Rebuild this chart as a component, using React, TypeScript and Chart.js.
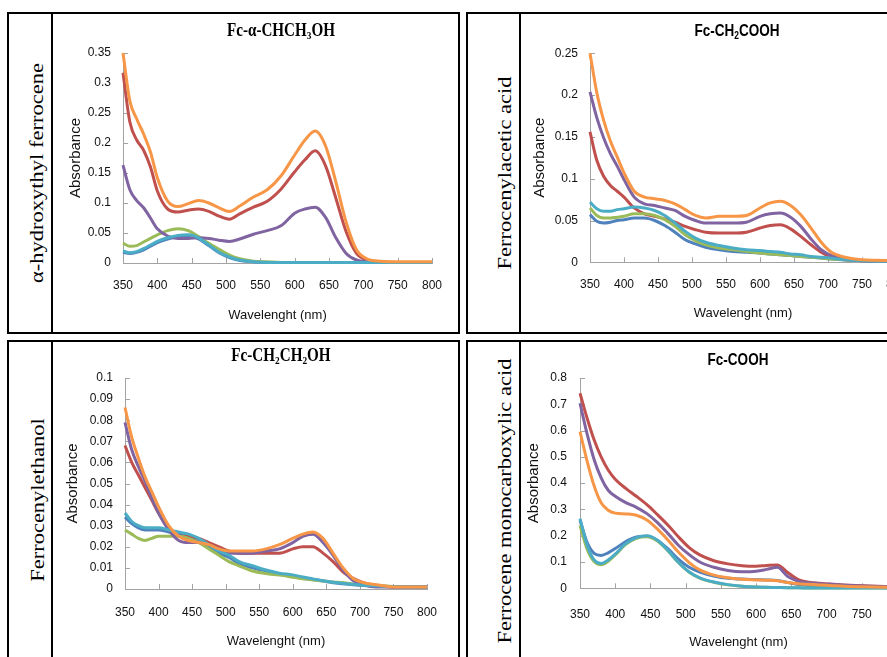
import React, { useEffect, useRef } from "react";
import { Chart, registerables } from "chart.js";

Chart.register(...registerables);

// ---------- data ----------
const WAVELENGTHS = [350, 360, 370, 380, 390, 400, 415, 430, 445, 460, 475, 490, 505, 520, 540, 560, 580, 600, 615, 630, 645, 660, 675, 690, 705, 725, 750, 800];
const X_TICKS = [350, 400, 450, 500, 550, 600, 650, 700, 750, 800];

// series order: blue, red, green, purple, aqua, orange
const SERIES_COLORS = ["#4F81BD", "#C0504D", "#9BBB59", "#8064A2", "#4BACC6", "#F79646"];

// Panel 1: Fc-α-CHCH3OH
const P1_BLUE = [0.018, 0.016, 0.018, 0.022, 0.028, 0.034, 0.040, 0.044, 0.045, 0.040, 0.029, 0.017, 0.009, 0.004, 0.002, 0.001, 0.001, 0.001, 0.001, 0.001, 0.001, 0.001, 0.001, 0.001, 0.001, 0.001, 0.001, 0.001];
const P1_RED = [0.317, 0.235, 0.205, 0.188, 0.160, 0.120, 0.090, 0.085, 0.088, 0.090, 0.086, 0.078, 0.073, 0.082, 0.093, 0.103, 0.123, 0.152, 0.172, 0.187, 0.162, 0.108, 0.052, 0.016, 0.005, 0.002, 0.001, 0.001];
const P1_GREEN = [0.033, 0.028, 0.029, 0.035, 0.041, 0.047, 0.054, 0.057, 0.054, 0.044, 0.033, 0.023, 0.013, 0.007, 0.003, 0.002, 0.001, 0.001, 0.001, 0.001, 0.001, 0.001, 0.001, 0.001, 0.001, 0.001, 0.001, 0.001];
const P1_PURPLE = [0.163, 0.122, 0.104, 0.092, 0.075, 0.057, 0.045, 0.041, 0.041, 0.042, 0.041, 0.038, 0.036, 0.040, 0.048, 0.054, 0.062, 0.083, 0.090, 0.093, 0.076, 0.042, 0.016, 0.005, 0.002, 0.001, 0.001, 0.001];
const P1_AQUA = [0.020, 0.017, 0.019, 0.024, 0.030, 0.036, 0.042, 0.046, 0.047, 0.042, 0.030, 0.018, 0.010, 0.005, 0.002, 0.001, 0.001, 0.001, 0.001, 0.001, 0.001, 0.001, 0.001, 0.001, 0.001, 0.001, 0.001, 0.001];
const P1_ORANGE = [0.350, 0.270, 0.240, 0.215, 0.185, 0.142, 0.103, 0.094, 0.099, 0.104, 0.100, 0.092, 0.086, 0.095, 0.110, 0.122, 0.145, 0.180, 0.205, 0.220, 0.195, 0.135, 0.068, 0.022, 0.007, 0.003, 0.002, 0.002];
const P1_Y_TICKS = [0, 0.05, 0.1, 0.15, 0.2, 0.25, 0.3, 0.35];

// Panel 2: Fc-CH2COOH
const P2_BLUE = [0.057, 0.049, 0.047, 0.048, 0.050, 0.051, 0.053, 0.053, 0.050, 0.044, 0.036, 0.027, 0.022, 0.018, 0.015, 0.013, 0.012, 0.011, 0.010, 0.009, 0.008, 0.007, 0.006, 0.005, 0.004, 0.003, 0.002, 0.001];
const P2_RED = [0.156, 0.122, 0.103, 0.092, 0.085, 0.078, 0.065, 0.058, 0.055, 0.052, 0.048, 0.043, 0.039, 0.036, 0.035, 0.035, 0.036, 0.041, 0.044, 0.045, 0.040, 0.031, 0.021, 0.012, 0.006, 0.003, 0.002, 0.001];
const P2_GREEN = [0.065, 0.056, 0.053, 0.053, 0.054, 0.055, 0.058, 0.058, 0.056, 0.051, 0.043, 0.033, 0.026, 0.021, 0.017, 0.015, 0.013, 0.011, 0.010, 0.009, 0.008, 0.007, 0.006, 0.005, 0.004, 0.003, 0.002, 0.001];
const P2_PURPLE = [0.204, 0.173, 0.149, 0.130, 0.115, 0.099, 0.078, 0.070, 0.068, 0.065, 0.062, 0.055, 0.050, 0.047, 0.047, 0.047, 0.048, 0.055, 0.058, 0.059, 0.054, 0.043, 0.028, 0.015, 0.008, 0.004, 0.002, 0.001];
const P2_AQUA = [0.072, 0.064, 0.061, 0.061, 0.063, 0.064, 0.066, 0.065, 0.062, 0.056, 0.047, 0.037, 0.029, 0.024, 0.020, 0.017, 0.015, 0.014, 0.013, 0.012, 0.010, 0.009, 0.007, 0.006, 0.005, 0.003, 0.002, 0.001];
const P2_ORANGE = [0.250, 0.203, 0.170, 0.145, 0.126, 0.107, 0.085, 0.078, 0.076, 0.074, 0.070, 0.063, 0.056, 0.053, 0.055, 0.055, 0.056, 0.065, 0.071, 0.073, 0.068, 0.057, 0.041, 0.024, 0.012, 0.006, 0.003, 0.002];
const P2_Y_TICKS = [0, 0.05, 0.1, 0.15, 0.2, 0.25];

// Panel 3: Fc-CH2CH2OH
const P3_BLUE = [0.034, 0.031, 0.029, 0.028, 0.028, 0.028, 0.027, 0.026, 0.025, 0.023, 0.020, 0.017, 0.015, 0.012, 0.010, 0.0085, 0.007, 0.006, 0.005, 0.0045, 0.0038, 0.003, 0.0025, 0.002, 0.0016, 0.0013, 0.0011, 0.001];
const P3_RED = [0.068, 0.060, 0.054, 0.048, 0.042, 0.036, 0.029, 0.025, 0.025, 0.024, 0.022, 0.020, 0.018, 0.017, 0.017, 0.017, 0.017, 0.019, 0.020, 0.020, 0.017, 0.013, 0.008, 0.005, 0.003, 0.0015, 0.001, 0.001];
const P3_GREEN = [0.028, 0.026, 0.024, 0.023, 0.024, 0.025, 0.025, 0.025, 0.024, 0.022, 0.019, 0.016, 0.013, 0.011, 0.0085, 0.0073, 0.0066, 0.0056, 0.0048, 0.0043, 0.0038, 0.0033, 0.003, 0.0024, 0.0019, 0.0015, 0.0012, 0.001];
const P3_PURPLE = [0.079, 0.066, 0.058, 0.051, 0.043, 0.036, 0.028, 0.023, 0.022, 0.022, 0.021, 0.019, 0.017, 0.017, 0.017, 0.018, 0.019, 0.022, 0.025, 0.026, 0.022, 0.016, 0.009, 0.004, 0.002, 0.001, 0.001, 0.001];
const P3_AQUA = [0.036, 0.032, 0.030, 0.029, 0.029, 0.029, 0.028, 0.027, 0.026, 0.024, 0.021, 0.018, 0.016, 0.013, 0.011, 0.009, 0.0075, 0.0067, 0.0057, 0.0048, 0.0039, 0.0032, 0.0027, 0.0022, 0.0018, 0.0015, 0.0012, 0.001];
const P3_ORANGE = [0.086, 0.072, 0.062, 0.053, 0.046, 0.039, 0.030, 0.025, 0.023, 0.022, 0.021, 0.019, 0.018, 0.018, 0.018, 0.019, 0.021, 0.024, 0.026, 0.027, 0.024, 0.017, 0.010, 0.005, 0.003, 0.002, 0.001, 0.001];
const P3_Y_TICKS = [0, 0.01, 0.02, 0.03, 0.04, 0.05, 0.06, 0.07, 0.08, 0.09, 0.1];

// Panel 4: Fc-COOH
const P4_BLUE = [0.259, 0.175, 0.133, 0.125, 0.135, 0.151, 0.178, 0.195, 0.198, 0.182, 0.150, 0.110, 0.080, 0.062, 0.047, 0.038, 0.035, 0.033, 0.032, 0.030, 0.022, 0.014, 0.010, 0.008, 0.006, 0.005, 0.004, 0.002];
const P4_RED = [0.742, 0.648, 0.565, 0.500, 0.450, 0.415, 0.380, 0.350, 0.318, 0.280, 0.240, 0.195, 0.155, 0.127, 0.105, 0.093, 0.086, 0.084, 0.087, 0.089, 0.060, 0.033, 0.023, 0.019, 0.016, 0.013, 0.010, 0.005];
const P4_GREEN = [0.240, 0.150, 0.102, 0.090, 0.103, 0.127, 0.167, 0.190, 0.196, 0.180, 0.142, 0.097, 0.061, 0.039, 0.023, 0.013, 0.008, 0.005, 0.004, 0.003, 0.002, 0.002, 0.001, 0.001, 0.001, 0.001, 0.001, 0.001];
const P4_PURPLE = [0.704, 0.588, 0.490, 0.420, 0.373, 0.350, 0.326, 0.308, 0.284, 0.250, 0.208, 0.163, 0.128, 0.100, 0.080, 0.068, 0.063, 0.065, 0.072, 0.080, 0.045, 0.027, 0.021, 0.017, 0.015, 0.012, 0.009, 0.005];
const P4_AQUA = [0.265, 0.165, 0.108, 0.094, 0.108, 0.130, 0.170, 0.193, 0.200, 0.183, 0.144, 0.098, 0.062, 0.040, 0.024, 0.014, 0.008, 0.005, 0.004, 0.003, 0.002, 0.002, 0.001, 0.001, 0.001, 0.001, 0.001, 0.001];
const P4_ORANGE = [0.596, 0.485, 0.390, 0.325, 0.297, 0.286, 0.283, 0.278, 0.260, 0.225, 0.183, 0.137, 0.098, 0.070, 0.050, 0.040, 0.034, 0.032, 0.031, 0.029, 0.022, 0.017, 0.015, 0.013, 0.011, 0.008, 0.006, 0.003];
const P4_Y_TICKS = [0, 0.1, 0.2, 0.3, 0.4, 0.5, 0.6, 0.7, 0.8];

// ---------- styling ----------
const AXIS_COLOR = "#a3a3a3";
const TEXT_COLOR = "#111";
const SANS = "'Liberation Sans', Arial, sans-serif";
const TICK_FONT = { family: SANS, size: 12 };
const XTITLE_FONT = { family: SANS, size: 13 };
const YTITLE_FONT = { family: SANS, size: 15 };

const insideTicks = {
  id: "insideTicks",
  beforeDatasetsDraw(chart: any) {
    const { ctx, chartArea, scales } = chart;
    const xs = scales.x;
    const ys = scales.y;
    ctx.save();
    ctx.strokeStyle = AXIS_COLOR;
    ctx.lineWidth = 1;
    ctx.beginPath();
    xs.ticks.forEach((t: any) => {
      const px = Math.round(xs.getPixelForValue(t.value)) + 0.5;
      ctx.moveTo(px, chartArea.bottom);
      ctx.lineTo(px, chartArea.bottom - 5);
    });
    ys.ticks.forEach((t: any) => {
      const py = Math.round(ys.getPixelForValue(t.value)) + 0.5;
      ctx.moveTo(chartArea.left, py);
      ctx.lineTo(chartArea.left + 5, py);
    });
    ctx.stroke();
    ctx.restore();
  },
};

type PanelSpec = {
  series: number[][];
  yTicks: number[];
  canvas: { left: number; top: number; w: number; h: number };
  padding: { left: number; top: number; right: number; bottom: number };
  yWidth: number;
  xHeight: number;
  xTickPad: number;
  yTickPad: number;
};

const PANELS: PanelSpec[] = [
  {
    series: [P1_BLUE, P1_RED, P1_GREEN, P1_PURPLE, P1_AQUA, P1_ORANGE],
    yTicks: P1_Y_TICKS,
    canvas: { left: 54, top: 14, w: 404, h: 318 },
    padding: { left: 13, top: 39, right: 26, bottom: 9.2 },
    yWidth: 56,
    xHeight: 59.8,
    xTickPad: 15.8,
    yTickPad: 12,
  },
  {
    series: [P2_BLUE, P2_RED, P2_GREEN, P2_PURPLE, P2_AQUA, P2_ORANGE],
    yTicks: P2_Y_TICKS,
    canvas: { left: 522, top: 14, w: 420, h: 318 },
    padding: { left: 9, top: 39.3, right: 46, bottom: 10.9 },
    yWidth: 59,
    xHeight: 58.8,
    xTickPad: 15.5,
    yTickPad: 12,
  },
  {
    series: [P3_BLUE, P3_RED, P3_GREEN, P3_PURPLE, P3_AQUA, P3_ORANGE],
    yTicks: P3_Y_TICKS,
    canvas: { left: 54, top: 342, w: 404, h: 315 },
    padding: { left: 9.7, top: 36, right: 31, bottom: 8.2 },
    yWidth: 61.3,
    xHeight: 59.8,
    xTickPad: 16,
    yTickPad: 12,
  },
  {
    series: [P4_BLUE, P4_RED, P4_GREEN, P4_PURPLE, P4_AQUA, P4_ORANGE],
    yTicks: P4_Y_TICKS,
    canvas: { left: 522, top: 342, w: 420, h: 315 },
    padding: { left: 3.3, top: 36, right: 45, bottom: 6.9 },
    yWidth: 54.7,
    xHeight: 61.8,
    xTickPad: 18.8,
    yTickPad: 13,
  },
];

function makeConfig(p: PanelSpec): any {
  const datasets = p.series.map((vals, i) => ({
    data: WAVELENGTHS.map((w, j) => ({ x: w, y: vals[j] })),
    borderColor: SERIES_COLORS[i],
    backgroundColor: SERIES_COLORS[i],
    borderWidth: 3,
    pointRadius: 0,
    cubicInterpolationMode: "monotone",
    fill: false,
    clip: 6,
    order: p.series.length - i,
  }));
  const yMax = p.yTicks[p.yTicks.length - 1];
  return {
    type: "line",
    data: { datasets },
    options: {
      animation: false,
      responsive: false,
      events: [],
      layout: { padding: p.padding },
      plugins: { legend: { display: false }, tooltip: { enabled: false }, title: { display: false } },
      scales: {
        x: {
          type: "linear",
          min: X_TICKS[0],
          max: X_TICKS[X_TICKS.length - 1],
          afterBuildTicks: (s: any) => {
            s.ticks = X_TICKS.map((v) => ({ value: v }));
          },
          afterFit: (s: any) => {
            s.height = p.xHeight;
          },
          grid: { display: false, drawTicks: false, tickLength: 0 },
          border: { display: true, color: AXIS_COLOR, width: 1 },
          ticks: { font: TICK_FONT, color: TEXT_COLOR, padding: p.xTickPad, maxRotation: 0, autoSkip: false },
          title: { display: true, text: "Wavelenght (nm)", font: XTITLE_FONT, color: TEXT_COLOR, padding: 0 },
        },
        y: {
          type: "linear",
          min: 0,
          max: yMax,
          afterBuildTicks: (s: any) => {
            s.ticks = p.yTicks.map((v) => ({ value: v }));
          },
          afterFit: (s: any) => {
            s.width = p.yWidth;
          },
          grid: { display: false, drawTicks: false, tickLength: 0 },
          border: { display: true, color: AXIS_COLOR, width: 1 },
          ticks: {
            font: TICK_FONT,
            color: TEXT_COLOR,
            padding: p.yTickPad,
            autoSkip: false,
            callback: (v: any) => String(parseFloat(Number(v).toFixed(4))),
          },
          title: { display: true, text: "Absorbance", font: YTITLE_FONT, color: TEXT_COLOR, padding: 0 },
        },
      },
    },
    plugins: [insideTicks],
  };
}

function ChartPanel({ spec }: { spec: PanelSpec }) {
  const ref = useRef<HTMLCanvasElement>(null);
  useEffect(() => {
    if (!ref.current) return;
    const chart = new Chart(ref.current, makeConfig(spec));
    return () => chart.destroy();
  }, [spec]);
  const c = spec.canvas;
  return (
    <canvas
      ref={ref}
      width={c.w}
      height={c.h}
      style={{ position: "absolute", left: c.left, top: c.top, width: c.w, height: c.h }}
    />
  );
}

function Box({ left, top, width, height }: { left: number; top: number; width: number; height: number }) {
  return (
    <div
      style={{
        position: "absolute",
        left,
        top,
        width,
        height,
        border: "2px solid #000",
        boxSizing: "border-box",
      }}
    />
  );
}

function VLine({ left, top, height }: { left: number; top: number; height: number }) {
  return <div style={{ position: "absolute", left, top, width: 2, height, background: "#000" }} />;
}

const subStyle: React.CSSProperties = { fontSize: "0.62em", verticalAlign: "-0.3em", lineHeight: 0 };

function Title({ x, y, serif, scale, size, children }: any) {
  return (
    <div
      style={{
        position: "absolute",
        left: x,
        top: y,
        transform: `translate(-50%, -50%) scaleX(${scale})`,
        whiteSpace: "nowrap",
        fontFamily: serif ? "'Liberation Serif', 'Times New Roman', serif" : "'Liberation Sans', Arial, sans-serif",
        fontWeight: "bold",
        fontSize: size,
        lineHeight: 1,
        color: "#000",
      }}
    >
      {children}
    </div>
  );
}

function RowLabel({ x, y, text }: { x: number; y: number; text: string }) {
  return (
    <div
      style={{
        position: "absolute",
        left: x,
        top: y,
        transform: "translate(-50%, -50%) rotate(-90deg) scaleY(0.8)",
        whiteSpace: "nowrap",
        fontFamily: "'Liberation Serif', 'Times New Roman', serif",
        fontSize: 22.5,
        lineHeight: 1,
        color: "#000",
      }}
    >
      {text}
    </div>
  );
}

export default function App() {
  return (
    <div
      style={{
        position: "fixed",
        left: 0,
        top: 0,
        width: 887,
        height: 657,
        overflow: "hidden",
        background: "#fff",
      }}
    >
      <Box left={7} top={12} width={453} height={322} />
      <VLine left={51} top={12} height={322} />
      <Box left={466} top={12} width={600} height={322} />
      <VLine left={519} top={12} height={322} />
      <Box left={7} top={340} width={453} height={400} />
      <VLine left={51} top={340} height={400} />
      <Box left={466} top={340} width={600} height={400} />
      <VLine left={519} top={340} height={400} />

      <RowLabel x={37.6} y={172.5} text="α-hydroxythyl ferrocene" />
      <RowLabel x={505.6} y={172.5} text="Ferrocenylacetic acid" />
      <RowLabel x={39.1} y={500} text="Ferrocenylethanol" />
      <RowLabel x={505.6} y={500.5} text="Ferrocene monocarboxylic acid" />

      {PANELS.map((p, i) => (
        <ChartPanel key={i} spec={p} />
      ))}

      <Title x={281} y={30} serif scale={0.84} size={18}>
        Fc-α-CHCH<sub style={subStyle}>3</sub>OH
      </Title>
      <Title x={736.5} y={30} scale={0.82} size={16.5}>
        Fc-CH<sub style={subStyle}>2</sub>COOH
      </Title>
      <Title x={281} y={354.5} serif scale={0.84} size={18}>
        Fc-CH<sub style={subStyle}>2</sub>CH<sub style={subStyle}>2</sub>OH
      </Title>
      <Title x={738} y={358.5} scale={0.82} size={16.5}>
        Fc-COOH
      </Title>
    </div>
  );
}
